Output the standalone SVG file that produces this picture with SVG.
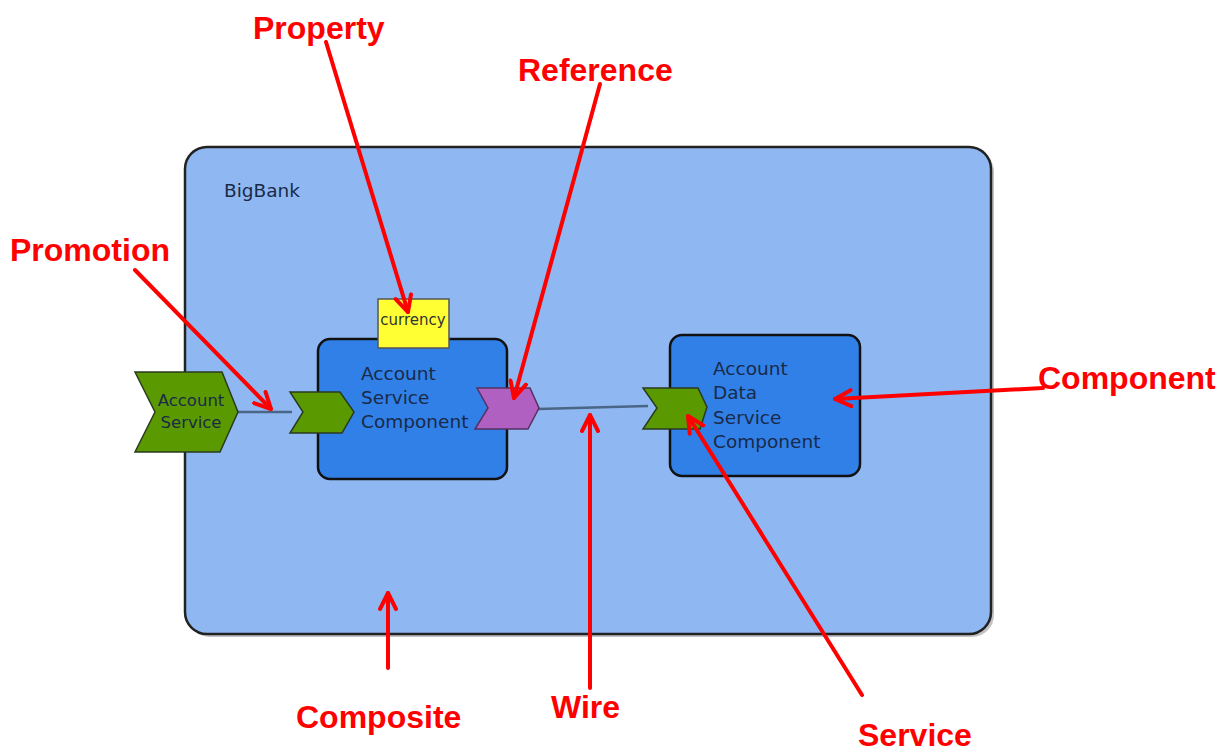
<svg xmlns="http://www.w3.org/2000/svg" width="1231" height="752" viewBox="0 0 1231 752">
<style>
.lbl{font-family:"Liberation Sans",Arial,sans-serif;font-weight:bold;font-size:32px;fill:#ff0000}
.in{font-family:"DejaVu Sans",sans-serif;font-size:18.5px;fill:#1a2a48}
.ann{stroke:#ff0000;stroke-width:4;fill:none;stroke-linecap:round}
.comp{fill:#3080e8;stroke:#111;stroke-width:2.5}
.svc{fill:#5a9a00;stroke:#2a3a20;stroke-width:1.5}
.wire{stroke:#4a6585;stroke-width:2.5;fill:none}
</style>
<defs>
<marker id="ah" viewBox="0 0 20 20" refX="18" refY="10" markerWidth="20" markerHeight="20" markerUnits="userSpaceOnUse" orient="auto">
<path d="M2,2 L18,10 L2,18" fill="none" stroke="#ff0000" stroke-width="4" stroke-linecap="round" stroke-linejoin="round"/>
</marker>
</defs>
<rect width="1231" height="752" fill="#ffffff"/>
<g id="composite">
<rect x="188" y="150" width="806" height="487" rx="22" fill="#888" opacity="0.5"/>
<rect x="185" y="147" width="806" height="487" rx="22" fill="#8fb8f2" stroke="#222" stroke-width="2.5"/>
<text x="224" y="197" class="in">BigBank</text>
</g>
<g id="connectors">
<line class="wire" x1="237" y1="412" x2="292" y2="412"/>
<line class="wire" x1="538" y1="409" x2="648" y2="406"/>
</g>
<g id="promoted-service">
<polygon class="svc" points="135,372 222,372 238,412 220,452 135,452 155,412"/>
<text x="191" y="406" class="in" text-anchor="middle" style="font-size:16.5px">Account</text>
<text x="191" y="428" class="in" text-anchor="middle" style="font-size:16.5px">Service</text>
</g>
<g id="account-service-component">
<rect class="comp" x="318" y="339" width="189" height="140" rx="12"/>
<text x="361" y="380" class="in">Account</text>
<text x="361" y="404" class="in">Service</text>
<text x="361" y="428" class="in">Component</text>
</g>
<g id="currency-property">
<rect x="378" y="299" width="71" height="49" fill="#ffff33" stroke="#555" stroke-width="1.5"/>
<text x="413" y="325" class="in" text-anchor="middle" style="font-size:15px;fill:#333">currency</text>
</g>
<g id="component-service">
<polygon class="svc" points="290,392 340,392 354,412 342,433 290,433 303,412"/>
</g>
<g id="reference">
<polygon points="477,388 530,388 539,408 528,429 475,429 488,408" fill="#b060c0" stroke="#553060" stroke-width="1.5"/>
</g>
<g id="account-data-service-component">
<rect class="comp" x="670" y="335" width="190" height="141" rx="12"/>
<text x="713" y="375" class="in">Account</text>
<text x="713" y="399" class="in">Data</text>
<text x="713" y="424" class="in">Service</text>
<text x="713" y="448" class="in">Component</text>
<polygon class="svc" points="643,388 698,388 707,407 700,429 643,429 657,408"/>
</g>
<g id="annotations">
<line class="ann" x1="135" y1="270" x2="271" y2="409" marker-end="url(#ah)"/>
<line class="ann" x1="326" y1="42" x2="408" y2="312" marker-end="url(#ah)"/>
<line class="ann" x1="600" y1="84" x2="514" y2="398" marker-end="url(#ah)"/>
<line class="ann" x1="1043" y1="388" x2="835" y2="399" marker-end="url(#ah)"/>
<line class="ann" x1="388" y1="668" x2="388" y2="593" marker-end="url(#ah)"/>
<line class="ann" x1="590" y1="688" x2="590" y2="415" marker-end="url(#ah)"/>
<line class="ann" x1="862" y1="695" x2="688" y2="416" marker-end="url(#ah)"/>
</g>
<g id="labels">
<text x="10" y="261" class="lbl">Promotion</text>
<text x="253" y="39" class="lbl">Property</text>
<text x="518" y="81" class="lbl">Reference</text>
<text x="1038" y="389" class="lbl">Component</text>
<text x="296" y="728" class="lbl">Composite</text>
<text x="551" y="718" class="lbl">Wire</text>
<text x="858" y="746" class="lbl">Service</text>
</g>
</svg>
